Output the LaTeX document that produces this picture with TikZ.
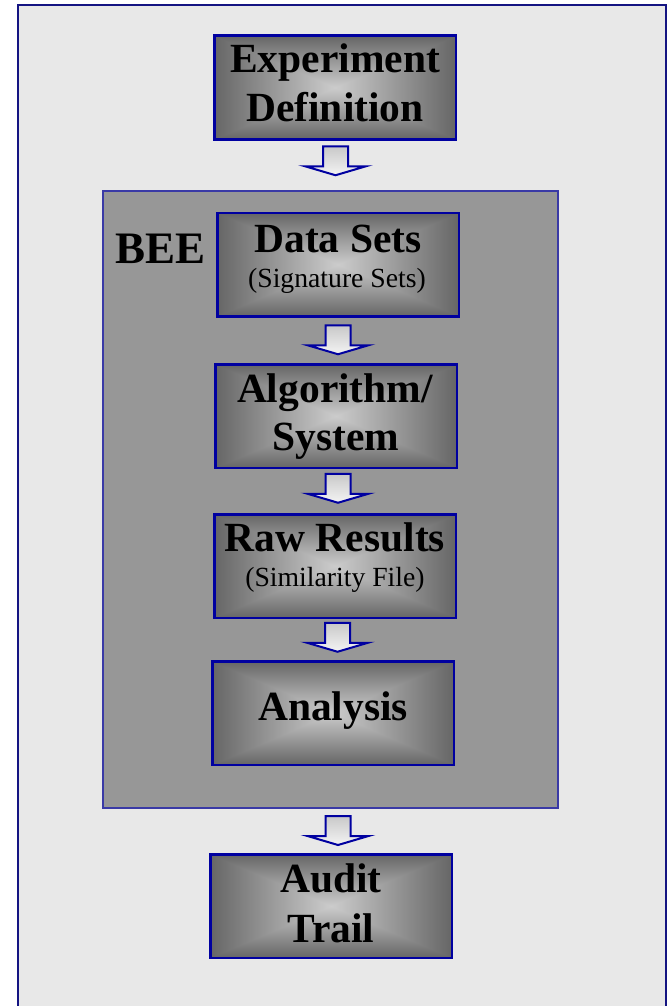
\documentclass[tikz,border=0pt]{standalone}
\usepackage{fontspec}
\setmainfont{Liberation Serif}
\usetikzlibrary{calc}
\definecolor{navy}{RGB}{20,20,130}
\definecolor{beeblue}{RGB}{58,58,166}
\definecolor{boxblue}{RGB}{0,0,160}
\definecolor{bgray}{RGB}{232,232,232}
\definecolor{beegray}{RGB}{151,151,151}
\definecolor{arrowtop}{RGB}{200,200,200}
\definecolor{arrowbot}{RGB}{244,244,244}
\pgfdeclarefunctionalshading{rectgray}{\pgfpoint{-50bp}{-50bp}}{\pgfpoint{50bp}{50bp}}{}{
  abs exch abs 2 copy lt {exch} if pop 25 div dup 1 gt {pop 1} if -0.40 mul 0.80 add dup dup
}
\begin{document}
\begin{tikzpicture}[x=1pt,y=-1pt,
  box/.style={rectangle, draw=boxblue, line width=2.5pt, shading=rectgray,
    minimum width=241.5pt, minimum height=103.5pt, inner sep=0pt, outer sep=0pt},
  beebox/.style={rectangle, draw=beeblue, line width=2pt, fill=beegray,
    minimum width=455pt, minimum height=617pt, inner sep=0pt, outer sep=0pt},
  big/.style={font=\fontsize{41.5}{49}\selectfont\bfseries, anchor=base, inner sep=0pt},
  small/.style={font=\fontsize{27.7}{32}\selectfont, anchor=base, inner sep=0pt},
  beelabel/.style={font=\fontsize{45}{50}\selectfont\bfseries, anchor=base, inner sep=0pt},
  blockarrow/.style={draw=boxblue, line width=2pt, top color=arrowtop, bottom color=arrowbot, line join=miter},
  pics/barrow/.style={code={\path[blockarrow] (-12.5,0) -- (12.5,0) -- (12.5,20) -- (30.5,20) -- (0,29) -- (-30.5,20) -- (-12.5,20) -- cycle;}}
]
\useasboundingbox (0,0) rectangle (668,1006);
\clip (0,0) rectangle (668,1006);
\draw[draw=navy, line width=2pt, fill=bgray] (17.5,5) rectangle (666,1030);

\node[beebox] (bee) at (330.5,499.5) {};
\node[beelabel] (beelbl) at (160.5,263) {BEE};

\node[box] (exp) at (335,87.5) {};
\node[big] (exp1) at (335,73) {Experiment};
\node[big] (exp2) at (335,122) {Definition};

\node[box] (data) at (338,264.5) {};
\node[big] (data1) at (338,252) {Data Sets};
\node[small] (data2) at (337,287) {(Signature Sets)};

\node[box] (alg) at (336,416) {};
\node[big] (alg1) at (335,402) {Algorithm/};
\node[big] (alg2) at (336,450) {System};

\node[box] (raw) at (335,566) {};
\node[big] (raw1) at (335,551) {Raw Results};
\node[small] (raw2) at (335,586) {(Similarity File)};

\node[box] (ana) at (333,713) {};
\node[big] (ana1) at (333,720) {Analysis};

\node[box] (aud) at (331,906) {};
\node[big] (aud1) at (331,892) {Audit};
\node[big] (aud2) at (331,942) {Trail};

\pic at ($(exp.south)+(0.5,7)$) {barrow};
\pic at ($(data.south)+(0,9)$) {barrow};
\pic at ($(alg.south)+(2,6)$) {barrow};
\pic at ($(raw.south)+(2.5,5)$) {barrow};
\pic at ($(bee.south)+(7.5,8)$) {barrow};
\end{tikzpicture}
\end{document}
